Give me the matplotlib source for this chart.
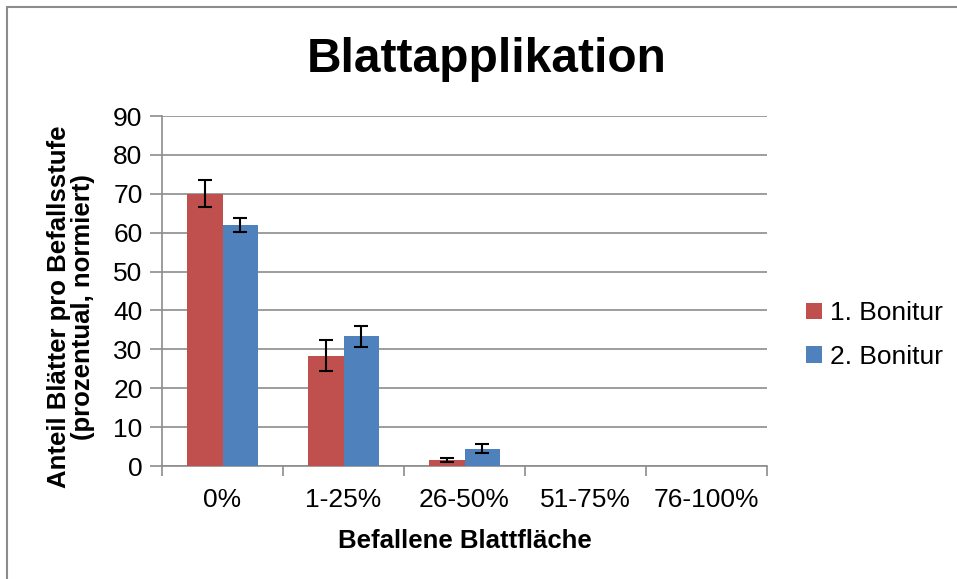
import matplotlib
matplotlib.use("Agg")
import matplotlib.pyplot as plt
import numpy as np
from matplotlib.patches import Rectangle

categories = ["0%", "1-25%", "26-50%", "51-75%", "76-100%"]
series_names = ["1. Bonitur", "2. Bonitur"]
bonitur1 = [70.0, 28.4, 1.5, 0.0, 0.0]
bonitur1_err = [3.5, 3.9, 0.5, 0.0, 0.0]
bonitur2 = [62.0, 33.4, 4.5, 0.0, 0.0]
bonitur2_err = [1.7, 2.7, 1.1, 0.0, 0.0]
colors = ["#C0504D", "#4F81BD"]

plt.rcParams['font.family'] = ['Liberation Sans', 'DejaVu Sans']

fig = plt.figure(figsize=(9.57, 5.79), dpi=100)
ax = fig.add_axes([162/957, 1-466/579, (767-162)/957, (466-116)/579])

x = np.arange(len(categories))
w = 0.29
ax.bar(x - w/2, bonitur1, w, color=colors[0], label=series_names[0], zorder=3)
ax.bar(x + w/2, bonitur2, w, color=colors[1], label=series_names[1], zorder=3)
for xs, vals, errs in [(x - w/2, bonitur1, bonitur1_err), (x + w/2, bonitur2, bonitur2_err)]:
    idx = [i for i, e in enumerate(errs) if e > 0]
    ax.errorbar(xs[idx], np.array(vals)[idx], yerr=np.array(errs)[idx], fmt='none',
                ecolor='black', elinewidth=1.5, capsize=5, capthick=1.5, zorder=4)

ax.set_xlim(-0.5, len(categories) - 0.5)
ax.set_ylim(0, 90)
ax.set_yticks(np.arange(0, 91, 10))
ax.yaxis.grid(True, color='#8c8c8c', linewidth=1.2, zorder=0)
ax.set_axisbelow(True)
for s in ['top', 'right']:
    ax.spines[s].set_visible(False)
for s in ['left', 'bottom']:
    ax.spines[s].set_color('#8c8c8c')
    ax.spines[s].set_linewidth(1.2)

ax.set_xticks(x)
ax.set_xticklabels(categories, fontsize=19)
ax.tick_params(axis='x', length=0, pad=16)
ax.set_xticks(np.arange(-0.5, len(categories), 1), minor=True)
ax.tick_params(axis='x', which='minor', length=7, color='#8c8c8c', width=1.2)
ax.tick_params(axis='y', labelsize=19, length=9, color='#8c8c8c', width=1.2, pad=5)

ax.set_xlabel("Befallene Blattfläche", fontsize=18.5, fontweight='bold', labelpad=12)
fig.text(71/957, 1-307/579, "Anteil Blätter pro Befallsstufe\n(prozentual, normiert)",
         rotation=90, ha='center', va='center', multialignment='center',
         fontsize=18.5, fontweight='bold', linespacing=1.05)

fig.text(487/957, 1-60/579, "Blattapplikation", ha='center', va='center',
         fontsize=34.5, fontweight='bold')

ax.legend(loc='center left', bbox_to_anchor=(1.012, 0.374), frameon=False, fontsize=19,
          handlelength=0.6, handleheight=0.6, handletextpad=0.3, labelspacing=0.75,
          borderaxespad=0.8)

fig.patches.append(Rectangle((7/957, -0.05), 1.1, 0.05 + (1 - 7/579),
                             transform=fig.transFigure, fill=False,
                             edgecolor='#8c8c8c', linewidth=1.5))

fig.savefig("out.png", dpi=100)
